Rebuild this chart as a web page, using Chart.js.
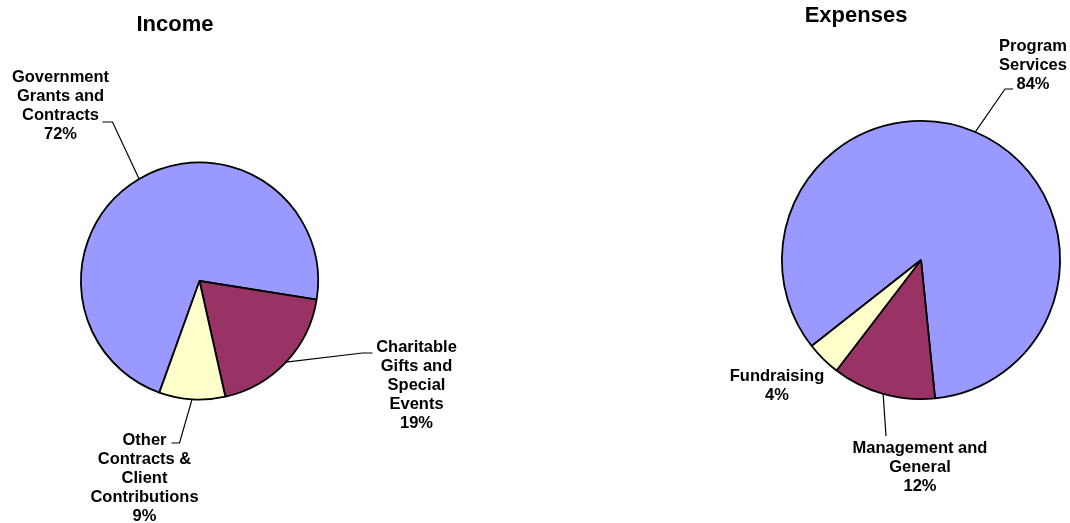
<!DOCTYPE html>
<html>
<head>
<meta charset="utf-8">
<script src="https://cdn.jsdelivr.net/npm/chart.js@4.4.0/dist/chart.umd.min.js"></script>
<style>
  html, body { margin: 0; padding: 0; background: #fff; }
  #wrap { position: relative; width: 1070px; height: 523px; }
  #wrap canvas { position: absolute; left: 0; top: 0; }
</style>
</head>
<body>
<div id="wrap">
  <canvas id="incomeChart" width="1070" height="523"></canvas>
  <canvas id="expenseChart" width="1070" height="523"></canvas>
</div>
<script>
// income pie
var incomeLabels = [
    ['Government', 'Grants and', 'Contracts'],
    ['Charitable', 'Gifts and', 'Special', 'Events'],
    ['Other', 'Contracts &', 'Client', 'Contributions']
];
var incomeValues = [72, 19, 9];

// expenses pie
var expenseLabels = [
    ['Program', 'Services'],
    ['Management and', 'General'],
    ['Fundraising']
];
var expenseValues = [84, 12, 4];

var sliceColors = ['#9999FF', '#993366', '#FFFFCC'];

// where the labels sit, relative to the pie centre (text x/y, leader elbow, leader end)
var incomeLabelPos = [
    {tx: -139, ty: -204, elbow: [-87, -159], end: [-97, -159]},
    {tx: 217, ty: 66, elbow: [163, 72], end: [173, 72]},
    {tx: -55, ty: 159, elbow: [-20, 162], end: [-28, 162]}
];
var expenseLabelPos = [
    {tx: 112, ty: -214, elbow: [84, -171], end: [92, -171]},
    {tx: -1, ty: 188, elbow: [-35, 176], end: null},
    {tx: -144, ty: 116, elbow: null, end: null}
];

// draws title, slice labels and leader lines
var pieLabels = {
    id: 'pieLabels',
    afterDraw: function(chart, args, opts) {
        var ctx = chart.ctx;
        var arcs = chart.getDatasetMeta(0).data;
        var values = chart.data.datasets[0].data;
        ctx.save();
        ctx.fillStyle = '#000';
        ctx.strokeStyle = '#000';
        ctx.lineWidth = 1.2;
        ctx.textAlign = 'center';
        ctx.textBaseline = 'middle';

        ctx.font = 'bold 22px "Liberation Sans", Arial, sans-serif';
        ctx.fillText(opts.title, opts.titleX, opts.titleY);

        ctx.font = 'bold 16.5px "Liberation Sans", Arial, sans-serif';
        arcs.forEach(function(arc, i) {
            var p = arc.getProps(['x', 'y', 'startAngle', 'endAngle', 'outerRadius'], true);
            var pos = opts.pos[i];
            var lines = chart.data.labels[i].concat([values[i] + '%']);
            lines.forEach(function(t, j) {
                ctx.fillText(t, p.x + pos.tx, p.y + pos.ty + j * 19);
            });
            if (pos.elbow) {
                var mid = (p.startAngle + p.endAngle) / 2;
                ctx.beginPath();
                ctx.moveTo(p.x + Math.cos(mid) * p.outerRadius, p.y + Math.sin(mid) * p.outerRadius);
                ctx.lineTo(p.x + pos.elbow[0], p.y + pos.elbow[1]);
                if (pos.end) ctx.lineTo(p.x + pos.end[0], p.y + pos.end[1]);
                ctx.stroke();
            }
        });
        ctx.restore();
    }
};

function makePie(id, labels, values, rotation, padding, labelOpts) {
    return new Chart(document.getElementById(id), {
        type: 'pie',
        data: {
            labels: labels,
            datasets: [{
                data: values,
                backgroundColor: sliceColors,
                borderColor: '#000',
                borderWidth: 1.8
            }]
        },
        options: {
            responsive: false,
            animation: false,
            events: [],
            rotation: rotation,
            layout: { padding: padding },
            plugins: {
                legend: { display: false },
                tooltip: { enabled: false },
                pieLabels: labelOpts
            }
        },
        plugins: [pieLabels]
    });
}

makePie('incomeChart', incomeLabels, incomeValues, 199.8,
    {left: 80, top: 161, right: 751, bottom: 122},
    {title: 'Income', titleX: 175, titleY: 25, pos: incomeLabelPos});

makePie('expenseChart', expenseLabels, expenseValues, 231.8,
    {left: 781, top: 120, right: 9, bottom: 123},
    {title: 'Expenses', titleX: 856, titleY: 16, pos: expenseLabelPos});
</script>
</body>
</html>
